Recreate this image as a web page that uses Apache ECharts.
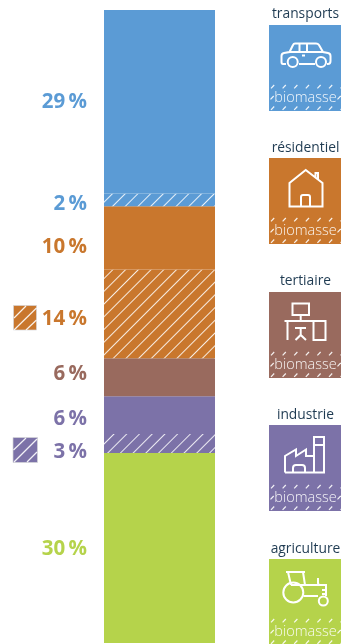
<!DOCTYPE html>
<html><head><meta charset="utf-8">
<style>html,body{margin:0;padding:0;background:#fff}#c{width:341px;height:644px}</style>
<script src="https://cdn.jsdelivr.net/npm/echarts@6/dist/echarts.min.js"></script>
</head><body><div id="c"></div>
<script>
const segmentNames = ['agriculture','industrie biomasse','industrie','tertiaire','résidentiel biomasse','résidentiel','transports biomasse','transports'];
const segmentValues = [30,3,6,6,14,10,2,29];
const sectorTitles = ['transports','résidentiel','tertiaire','industrie','agriculture'];
const panelWord = 'biomasse';

const segmentColors = ['#B5D34B','#7C72A8','#7C72A8','#996A5E','#C9772D','#C9772D','#5B9BD5','#5B9BD5'];
const hatched = [false,true,false,false,true,false,true,false];
const labelShift = [1,9,4,-3,5,9,4,0];
const panelColors = ['#5B9BD5','#C9772D','#996A5E','#7C72A8','#B5D34B'];
const panelTop = [25,158,292,425,559];
const titleY = [14.5,148,281,415,549];
const ink = '#1F3B52';

const decal = {symbol:'rect',symbolSize:1,color:'rgba(255,255,255,0.85)',dashArrayX:[[1,0]],dashArrayY:[1,7.5],rotation:-Math.PI/4};

const series = segmentValues.map((v,i)=>{
  const itemStyle = {color:segmentColors[i]};
  if(hatched[i]) itemStyle.decal = decal;
  return {
  type:'bar',name:segmentNames[i],stack:'s',barWidth:'100%',silent:true,
  data:[v],
  itemStyle,
  label:{show:true,position:'left',distance:17,offset:[0,labelShift[i]],
    formatter:p=>p.value+'\u2009%',color:segmentColors[i],
    fontFamily:'Open Sans',fontWeight:700,fontSize:20.5}
};});

const icons = [
 {d:'M286 64H283Q281.5 64 281.5 62V56Q281.5 53.5 284 53L289.5 52L293 45Q293.7 43.5 295 43.5H316Q318 43.5 319 45L323 52L328 53Q330.5 53.5 330.5 56V61Q330.5 64 328 64H327M315 64H299M289.5 52H323M299.5 44V52M307 44V52M302 55.5H305', c:[[292.7,62,5],[321,62,5]]},
 {d:'M289.5 206.5V183L305.7 170L322.5 183V206.5ZM301 206.5V197Q301 195 303 195H308Q310 195 310 197V206.5M315.5 177V173H318V180', c:[]},
 {d:'M292.5 303.5H309V315H292.5ZM300.7 315V321M284.5 321H326.5M287.5 321V340M313.5 321V340H325.5V321M295 328H306M300.7 328V335M295.5 340L300.7 335L306 340', c:[]},
 {d:'M285 472.5V456L296 449.5V456L306 449.5V456H314M314 472.5V437H324V472.5H285M314 445H324M293 472.5V468Q293 465 296 465H302Q305 465 305 468V472.5', c:[]},
 {d:'M286 572H305M288 572L291 585M303 572L305 585M291 585H326V596M303.5 596H318M318 578V583Q318 585 320 585M322 590H325M322 594H325', c:[[293.3,592.5,10],[323.3,601,4.5]]}
];
series.push({
  type:'custom',coordinateSystem:'none',silent:true,data:[0],z:5,
  renderItem(){
    const children=[];
    icons.forEach(ic=>{
      children.push({type:'path',shape:{pathData:ic.d},style:{fill:'none',stroke:'#fff',lineWidth:2}});
      ic.c.forEach(c=>children.push({type:'circle',shape:{cx:c[0],cy:c[1],r:c[2]},style:{fill:'none',stroke:'#fff',lineWidth:2}}));
    });
    return {type:'group',children};
  }
});

function dash(x,y){return {type:'line',silent:true,shape:{x1:x,y1:y+3.4,x2:x+3.2,y2:y},style:{stroke:'rgba(255,255,255,.9)',lineWidth:1.2}};}

const g = [];
sectorTitles.forEach((t,i)=>{
  const top = panelTop[i];
  g.push({type:'text',silent:true,x:305.5,y:titleY[i],style:{text:t,fill:ink,font:'13.8px "Open Sans"',align:'center',verticalAlign:'middle'}});
  g.push({type:'rect',silent:true,shape:{x:269,y:top,width:72,height:i===4?85:86},style:{fill:panelColors[i]}});
  for(let x=271;x<341;x+=11.6){ g.push(dash(x,top+60)); g.push(dash(x,top+81.5)); }
  g.push(dash(270.5,top+71)); g.push(dash(337.5,top+71));
  g.push({type:'text',silent:true,x:305.5,y:top+72.5,style:{text:panelWord,fill:'rgba(255,255,255,.92)',font:'300 14.5px "Open Sans"',align:'center',verticalAlign:'middle'}});
});
function swatch(x,y,w,h,col,lines){
  g.push({type:'rect',silent:true,shape:{x,y,width:w,height:h},style:{fill:col,stroke:'#d5d5d8',lineWidth:.7}});
  lines.forEach(l=>g.push({type:'line',silent:true,shape:{x1:l[0],y1:l[1],x2:l[2],y2:l[3]},style:{stroke:'rgba(255,255,255,.9)',lineWidth:1.2}}));
}
swatch(13.5,305.5,23,24.5,'#C9772D',[[14,318,26,306],[14,330,36.5,308],[26,330,36.5,320]]);
swatch(13,437.5,24.5,25,'#7C72A8',[[13.5,450,26,438],[14,462,37,439],[27,462,37,452]]);

const chart = echarts.init(document.getElementById('c'),null,{renderer:'canvas'});
chart.setOption({
  animation:false,
  grid:{left:104,top:10,width:111,height:633},
  xAxis:{type:'category',data:['énergie'],show:false},
  yAxis:{type:'value',min:0,max:100,show:false},
  series,
  graphic:g
});
</script></body></html>
